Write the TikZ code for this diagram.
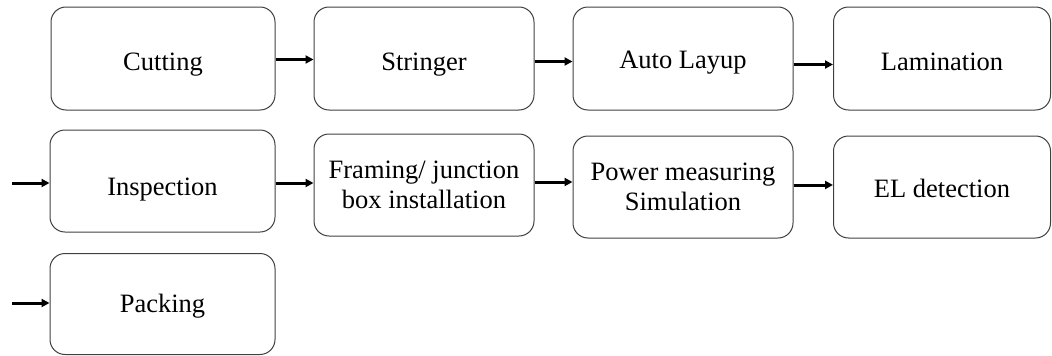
\documentclass[tikz,border=0pt]{standalone}
\usepackage{fontspec}
\setmainfont{Liberation Serif}
\usetikzlibrary{positioning, arrows.meta, calc}
\tikzset{
  stage/.style={draw=black!75, line width=1pt, rounded corners=15pt, align=center,
    inner sep=2pt, font=\fontsize{26.5}{30.5}\selectfont},
  txtdrop/.style={text height=#1, text depth=0pt},
  flow/.style={-{Triangle[length=8pt, width=8pt]}, line width=3pt}
}

\begin{document}
\begin{tikzpicture}[x=1pt, y=-1pt]
  \useasboundingbox (0,0) rectangle (1052,356);
  % first row
  \node[stage, txtdrop=23pt, minimum width=224pt, minimum height=103pt] (cut) at (163,58.5) {Cutting};
  \node[stage, txtdrop=23pt, minimum width=220pt, minimum height=103pt] (str) at (424,58.5) {Stringer};
  \node[stage, txtdrop=19pt, minimum width=220pt, minimum height=103pt] (lay) at (683,58.5) {Auto Layup};
  \node[stage, txtdrop=24pt, minimum width=217pt, minimum height=103pt] (lam) at (942,58.5) {Lamination};
  % second row
  \node[stage, txtdrop=29pt, minimum width=225pt, minimum height=102pt] (insp) at (162.5,181) {Inspection};
  \node[stage, minimum width=220pt, minimum height=102pt] (frame) at (424,185) {Framing/ junction\\box installation};
  \node[stage, minimum width=220pt, minimum height=102pt] (power) at (683,187) {Power measuring\\Simulation};
  \node[stage, txtdrop=20pt, minimum width=217pt, minimum height=102pt] (el) at (942,187) {EL detection};
  % third row
  \node[stage, txtdrop=16pt, minimum width=225pt, minimum height=101pt] (pack) at (162.5,304) {Packing};
  % arrow start points
  \coordinate (in2) at (12,183);
  \coordinate (in3) at (12,303);
  \coordinate (o1) at ($(cut.east)+(0,1)$);
  \coordinate (o2) at ($(str.east)+(0,3)$);
  \coordinate (o3) at ($(lay.east)+(0,6)$);
  \coordinate (o4) at ($(insp.east)+(0,2)$);
  \coordinate (o5) at ($(frame.east)+(0,-3)$);
  \coordinate (o6) at ($(power.east)+(0,-2)$);
  \draw[flow] (o1) -- (o1 -| str.west);
  \draw[flow] (o2) -- (o2 -| lay.west);
  \draw[flow] (o3) -- (o3 -| lam.west);
  \draw[flow] (in2) -- (in2 -| insp.west);
  \draw[flow] (o4) -- (o4 -| frame.west);
  \draw[flow] (o5) -- (o5 -| power.west);
  \draw[flow] (o6) -- (o6 -| el.west);
  \draw[flow] (in3) -- (in3 -| pack.west);
\end{tikzpicture}
\end{document}
